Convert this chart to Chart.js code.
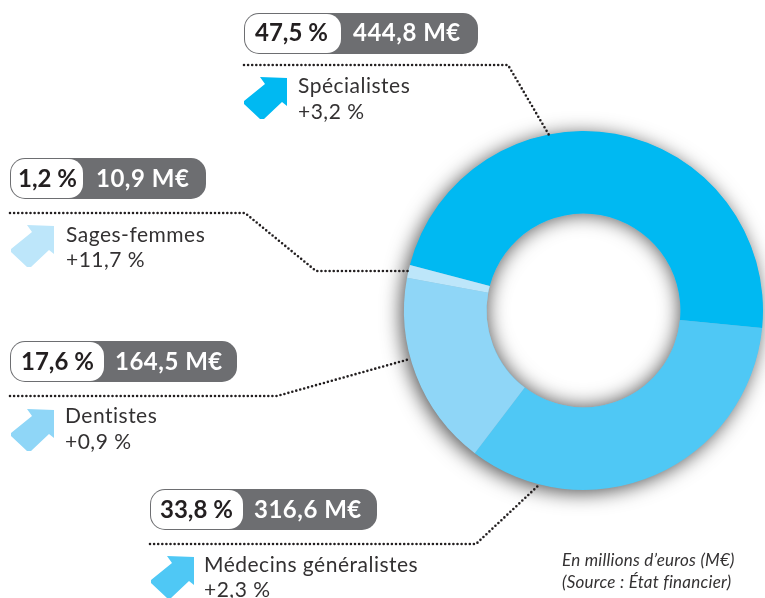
<!DOCTYPE html>
<html lang="fr">
<head>
<meta charset="utf-8">
<title>Honoraires</title>
<style>
html, body { margin: 0; padding: 0; background: #fff; overflow: hidden; }
canvas { display: block; }
</style>
</head>
<body>
<canvas id="myChart" width="765" height="598"></canvas>
<script src="https://cdn.jsdelivr.net/npm/chart.js@4/dist/chart.umd.min.js"></script>
<script>
"use strict";

const categories = ["Spécialistes", "Médecins généralistes", "Dentistes", "Sages-femmes"];
const amounts = [444.8, 316.6, 164.5, 10.9];
const shareLabels = ["47,5 %", "33,8 %", "17,6 %", "1,2 %"];
const amountLabels = ["444,8 M€", "316,6 M€", "164,5 M€", "10,9 M€"];
const changeLabels = ["+3,2 %", "+2,3 %", "+0,9 %", "+11,7 %"];
const colors = ["#00b9f2", "#4fc8f5", "#8fd6f7", "#bde6fa"];
const notes = ["En millions d’euros (M€)", "(Source : État financier)"];

// callout layout, same order as categories
const pills = [
    {x: 244, y: 13, w: 234, h: 41, split: 97, pct: 255, amt: 353, base: 41},
    {x: 150, y: 489, w: 227, h: 41, split: 93, pct: 160, amt: 254, base: 518},
    {x: 10, y: 341, w: 227, h: 41, split: 94, pct: 21, amt: 115, base: 370},
    {x: 10, y: 158, w: 196, h: 41, split: 73, pct: 18, amt: 96, base: 187}
];
const leaders = [
    [[244, 65], [508, 65], [549, 135]],
    [[150, 544], [476, 544], [540, 484]],
    [[10, 396], [277, 396], [410, 359]],
    [[10, 213], [245, 213], [316, 271], [410, 271]]
];
const arrowTips = [[287, 78], [194, 557], [54, 410], [54, 226]];
const labelPos = [
    {x: 298, y1: 93, y2: 119},
    {x: 204, y1: 572, y2: 597},
    {x: 65, y1: 423, y2: 449},
    {x: 66, y1: 242, y2: 267}
];
const arrowShape = [[-27, -1], [0, 0], [0, 28], [-5, 24], [-23, 41], [-27, 41], [-43, 26], [-43, 23], [-22, 6]];

const font = "Lato, 'Open Sans', sans-serif";

function drawPill(ctx, p, share, amount) {
    ctx.beginPath();
    ctx.roundRect(p.x, p.y, p.w, p.h, 15);
    ctx.fillStyle = "#6d6e71";
    ctx.fill();

    ctx.beginPath();
    ctx.roundRect(p.x + 1, p.y + 1, p.split - 1, p.h - 2, 14);
    ctx.fillStyle = "#fff";
    ctx.fill();

    ctx.font = "bold 24px " + font;
    ctx.fillStyle = "#231f20";
    ctx.letterSpacing = "0px";
    ctx.fillText(share, p.pct, p.base);
    ctx.fillStyle = "#fff";
    ctx.letterSpacing = "0.5px";
    ctx.fillText(amount, p.amt, p.base);
}

function drawLeader(ctx, pts) {
    ctx.save();
    ctx.beginPath();
    pts.forEach((pt, i) => i ? ctx.lineTo(pt[0], pt[1]) : ctx.moveTo(pt[0], pt[1]));
    ctx.setLineDash([0, 4.1]);
    ctx.lineCap = "round";
    ctx.lineWidth = 2.6;
    ctx.strokeStyle = "#231f20";
    ctx.stroke();
    ctx.restore();
}

function drawArrow(ctx, tip, color) {
    ctx.beginPath();
    arrowShape.forEach((pt, i) => {
        if (i) ctx.lineTo(tip[0] + pt[0], tip[1] + pt[1]);
        else ctx.moveTo(tip[0] + pt[0], tip[1] + pt[1]);
    });
    ctx.closePath();
    ctx.fillStyle = color;
    ctx.fill();
}

// soft shadow under the ring, the slices are painted over it
const ringShadow = {
    id: "ringShadow",
    beforeDatasetsDraw(chart) {
        const arc = chart.getDatasetMeta(0).data[0];
        const ctx = chart.ctx;
        ctx.save();
        // outer shadow leans down and left
        ctx.beginPath();
        ctx.arc(arc.x, arc.y, arc.outerRadius - 0.5, 0, Math.PI * 2);
        ctx.shadowColor = "rgba(0,0,0,0.7)";
        ctx.shadowBlur = 20;
        ctx.shadowOffsetX = -3;
        ctx.shadowOffsetY = 3;
        ctx.fillStyle = "#6fb4d2";
        ctx.fill();
        // hole: white, then an even shadow inside it
        ctx.shadowColor = "transparent";
        ctx.beginPath();
        ctx.arc(arc.x, arc.y, arc.innerRadius, 0, Math.PI * 2);
        ctx.fillStyle = "#fff";
        ctx.fill();
        ctx.clip();
        ctx.beginPath();
        ctx.arc(arc.x, arc.y, arc.outerRadius, 0, Math.PI * 2);
        ctx.arc(arc.x, arc.y, arc.innerRadius, 0, Math.PI * 2, true);
        ctx.shadowColor = "rgba(0,0,0,0.7)";
        ctx.shadowBlur = 20;
        ctx.shadowOffsetX = 0;
        ctx.shadowOffsetY = 0;
        ctx.fillStyle = "#6fb4d2";
        ctx.fill();
        ctx.restore();
    }
};

const callouts = {
    id: "callouts",
    afterDraw(chart) {
        const ctx = chart.ctx;
        ctx.save();
        ctx.textBaseline = "alphabetic";
        ctx.textAlign = "left";
        categories.forEach((name, i) => {
            drawLeader(ctx, leaders[i]);
            drawPill(ctx, pills[i], shareLabels[i], amountLabels[i]);
            drawArrow(ctx, arrowTips[i], colors[i]);
            ctx.font = "21px " + font;
            ctx.letterSpacing = "0.5px";
            ctx.fillStyle = "#333132";
            ctx.fillText(name, labelPos[i].x, labelPos[i].y1);
            ctx.fillText(changeLabels[i], labelPos[i].x, labelPos[i].y2);
        });
        ctx.font = "italic 17px " + font;
        ctx.letterSpacing = "0.25px";
        ctx.fillStyle = "#333132";
        ctx.fillText(notes[0], 562, 566);
        ctx.fillText(notes[1], 562, 588);
        ctx.restore();
    }
};

new Chart(document.getElementById("myChart"), {
    type: "doughnut",
    data: {
        labels: categories,
        datasets: [{
            data: amounts,
            backgroundColor: colors,
            borderWidth: 0
        }]
    },
    options: {
        responsive: false,
        animation: false,
        rotation: -75.3,
        cutout: "54%",
        layout: {padding: {left: 404, right: 2, top: 131, bottom: 108}},
        plugins: {legend: {display: false}, tooltip: {enabled: false}}
    },
    plugins: [ringShadow, callouts]
});
</script>
</body>
</html>
